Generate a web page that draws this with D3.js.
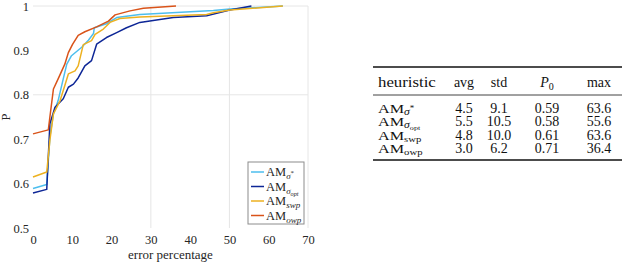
<!DOCTYPE html>
<html>
<head>
<meta charset="utf-8">
<script src="https://cdn.jsdelivr.net/npm/d3@7"></script>
<style>
  body { margin: 0; background: #fff; }
  svg { display: block; }
</style>
</head>
<body>
<svg id="chart" width="640" height="262"></svg>
<script>
// ---- data ----
const xTicks = [0, 10, 20, 30, 40, 50, 60, 70];
const yTicks = [0.5, 0.6, 0.7, 0.8, 0.9, 1];
const gridX = [30, 50, 70];
const gridY = [0.8, 1];

const sigmaStarX = [0, 3.5, 4.3, 5.2, 6.4, 7.7, 8.6, 9.8, 12.4, 14.1, 15.4, 15.6, 18.7, 21.3, 27.2, 45.9, 50.1, 63.6];
const sigmaStarY = [0.589, 0.598, 0.705, 0.757, 0.787, 0.836, 0.869, 0.888, 0.907, 0.923, 0.938, 0.951, 0.96, 0.974, 0.981, 0.99, 0.993, 1.0];

const sigmaOptX = [0, 3.5, 4.3, 5.6, 7.7, 9.0, 10.3, 11.5, 13.2, 14.9, 16.2, 18.7, 21.3, 23.8, 27.2, 35.7, 44.2, 50.1, 55.6];
const sigmaOptY = [0.579, 0.587, 0.735, 0.772, 0.791, 0.817, 0.824, 0.838, 0.865, 0.877, 0.914, 0.929, 0.94, 0.951, 0.963, 0.974, 0.978, 0.991, 1.0];

const swpX = [0, 3.5, 4.3, 5.2, 6.9, 8.1, 9.0, 10.7, 11.5, 12.8, 14.9, 15.8, 17.9, 19.6, 22.1, 27.2, 44.2, 45.9, 50.1, 63.6];
const swpY = [0.615, 0.626, 0.698, 0.757, 0.787, 0.821, 0.847, 0.854, 0.865, 0.913, 0.922, 0.936, 0.948, 0.963, 0.972, 0.975, 0.981, 0.985, 0.991, 1.0];

const owpX = [0, 3.9, 4.3, 5.2, 6.4, 8.1, 9.0, 10.1, 11.5, 13.2, 16.2, 19.2, 20.9, 24.7, 28.1, 36.4];
const owpY = [0.712, 0.721, 0.75, 0.813, 0.836, 0.869, 0.895, 0.914, 0.934, 0.942, 0.953, 0.966, 0.98, 0.989, 0.995, 1.0];

const seriesColors = ["#4dbeee", "#0d2696", "#edb120", "#d95319"];

// table
const tableHeads = ["heuristic", "avg", "std", "P0", "max"];
const avgValues = [4.5, 5.5, 4.8, 3.0];
const stdValues = [9.1, 10.5, 10.0, 6.2];
const p0Values = [0.59, 0.58, 0.61, 0.71];
const maxValues = [63.6, 55.6, 63.6, 36.4];

// label pieces: text, size factor, vertical shift (px, down positive), italic
const legendLabels = [
  [["AM", 1, 0, false], ["σ", 0.72, 3, true], ["*", 0.55, -1, false]],
  [["AM", 1, 0, false], ["σ", 0.72, 3, true], ["opt", 0.5, 5, true]],
  [["AM", 1, 0, false], ["swp", 0.72, 3, true]],
  [["AM", 1, 0, false], ["owp", 0.72, 3, true]]
];
const tableLabels = [
  [["AM", 1, 0, false], ["σ", 0.72, 2, true], ["*", 0.55, -2, false]],
  [["AM", 1, 0, false], ["σ", 0.72, 2, true], ["opt", 0.5, 3.5, false]],
  [["AM", 1, 0, false], ["swp", 0.66, 2, false]],
  [["AM", 1, 0, false], ["owp", 0.66, 2, false]]
];

const series = [
  { x: sigmaStarX, y: sigmaStarY },
  { x: sigmaOptX, y: sigmaOptY },
  { x: swpX, y: swpY },
  { x: owpX, y: owpY }
].map((s, i) => ({ pts: s.x.map((v, j) => [v, s.y[j]]), color: seriesColors[i] }));

// ---- layout ----
const svg = d3.select("#chart");
const margin = { top: 6, left: 33 };
const width = 275;
const height = 222;
const axisFont = "'Liberation Serif', 'Times New Roman', Times, 'DejaVu Serif', serif";
const textColor = "#262626";

const g = svg.append("g").attr("transform", `translate(${margin.left},${margin.top})`);

const x = d3.scaleLinear().domain([0, 70]).range([0, width]);
const y = d3.scaleLinear().domain([0.5, 1]).range([height, 0]);

// light grid
g.append("g")
  .selectAll("line")
  .data(gridX)
  .join("line")
  .attr("x1", (d) => x(d)).attr("x2", (d) => x(d))
  .attr("y1", 0).attr("y2", height)
  .attr("stroke", "#e6e6e6");

g.append("g")
  .selectAll("line")
  .data(gridY)
  .join("line")
  .attr("x1", 0).attr("x2", width)
  .attr("y1", (d) => y(d)).attr("y2", (d) => y(d))
  .attr("stroke", "#e6e6e6");

// x axis (labels only)
g.append("g")
  .attr("transform", `translate(0,${height})`)
  .call(d3.axisBottom(x).tickValues(xTicks).tickSize(0).tickPadding(7))
  .call((a) => a.select(".domain").remove())
  .selectAll("text")
  .attr("font-size", 12.5)
  .attr("fill", textColor);

// y axis (labels only)
g.append("g")
  .call(d3.axisLeft(y).tickValues(yTicks).tickSize(0).tickPadding(4).tickFormat((d) => d === 1 ? "1" : d3.format(".1f")(d)))
  .call((a) => a.select(".domain").remove())
  .selectAll("text")
  .attr("font-size", 12.5)
  .attr("fill", textColor);

g.selectAll(".tick text").style("font-family", axisFont);

svg.append("text")
  .attr("x", margin.left + width / 2)
  .attr("y", 259)
  .attr("text-anchor", "middle")
  .style("font-family", axisFont)
  .style("font-size", "13px")
  .attr("fill", textColor)
  .text("error percentage");

svg.append("text")
  .attr("transform", "translate(10,117) rotate(-90)")
  .attr("text-anchor", "middle")
  .style("font-family", axisFont)
  .style("font-size", "12.5px")
  .attr("fill", textColor)
  .text("P");

// curves
const line = d3.line().x((d) => x(d[0])).y((d) => y(d[1]));
g.append("g")
  .selectAll("path")
  .data(series)
  .join("path")
  .attr("fill", "none")
  .attr("stroke", (d) => d.color)
  .attr("stroke-width", 1.5)
  .attr("stroke-linejoin", "round")
  .attr("d", (d) => line(d.pts));

// rich label helper
function richText(sel, parts, base) {
  let prev = 0;
  parts.forEach(([t, f, shift, it]) => {
    sel.append("tspan")
      .attr("dy", shift - prev)
      .style("font-size", base * f + "px")
      .style("font-style", it ? "italic" : "normal")
      .text(t);
    prev = shift;
  });
}

// legend
const legend = svg.append("g").attr("transform", "translate(248,162)");
legend.append("rect")
  .attr("width", 56).attr("height", 62)
  .attr("fill", "#fff")
  .attr("stroke", "#8c8c8c")
  .attr("stroke-width", 1);
legendLabels.forEach((parts, i) => {
  const ly = 10 + i * 14.5;
  legend.append("line")
    .attr("x1", 3).attr("x2", 16)
    .attr("y1", ly).attr("y2", ly)
    .attr("stroke", seriesColors[i])
    .attr("stroke-width", 1.5);
  const t = legend.append("text")
    .attr("x", 18).attr("y", ly + 4)
    .style("font-family", axisFont)
    .attr("fill", textColor);
  richText(t, parts, 12.5);
});

// table
const tbl = svg.append("g").attr("fill", "#111").style("font-family", axisFont);
const colX = [378, 464, 499, 547, 599];
const rowY = [108, 121.5, 135, 148.5];
const stretch = 1.2; // first column is set wider in the source
const fmt1 = d3.format(".1f");
const fmt2 = d3.format(".2f");

[[67, 1.3], [95, 0.8], [160, 1.3]].forEach(([ry, w]) => {
  tbl.append("line")
    .attr("x1", 373).attr("x2", 622)
    .attr("y1", ry).attr("y2", ry)
    .attr("stroke", "#111").attr("stroke-width", w);
});

tableHeads.forEach((h, i) => {
  const t = tbl.append("text")
    .attr("transform", i === 0 ? `translate(${colX[0]},86.5) scale(${stretch},1)` : `translate(${colX[i]},86.5)`)
    .attr("text-anchor", i === 0 ? "start" : "middle")
    .style("font-size", "14px");
  if (h === "P0") {
    t.append("tspan").style("font-style", "italic").text("P");
    t.append("tspan").attr("dy", 3).style("font-size", "10px").text("0");
  } else {
    t.text(h);
  }
});

const rows = d3.range(4).map((i) => [fmt1(avgValues[i]), fmt1(stdValues[i]), fmt2(p0Values[i]), fmt1(maxValues[i])]);
rows.forEach((r, i) => {
  const lt = tbl.append("text")
    .attr("transform", `translate(${colX[0]},${rowY[i] + 4.5}) scale(${stretch},1)`);
  richText(lt, tableLabels[i], 13.5);
  r.forEach((v, j) => {
    tbl.append("text")
      .attr("x", colX[j + 1]).attr("y", rowY[i] + 4.5)
      .attr("text-anchor", "middle")
      .style("font-size", "14px")
      .text(v);
  });
});
</script>
</body>
</html>
